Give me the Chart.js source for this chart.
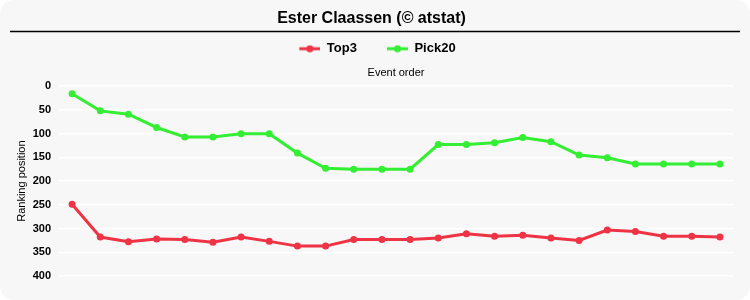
<!DOCTYPE html>
<html>
<head>
<meta charset="utf-8">
<script src="https://cdn.jsdelivr.net/npm/chart.js@4"></script>
<style>
  html, body { margin: 0; padding: 0; background: #fff; }
  .box { width: 750px; height: 300px; background: #f7f7f7; border-radius: 14px; overflow: hidden; }
</style>
</head>
<body>
<div class="box"><canvas id="rankChart" width="750" height="300"></canvas></div>
<script>
const events = Array.from({ length: 24 }, (_, i) => String(i + 1));
const top3 = [249, 318, 328, 322, 323, 329, 318, 327, 337, 337, 323, 323, 323, 320, 311, 316, 314, 320, 325, 303, 306, 316, 316, 318];
const pick20 = [16, 52, 59, 87, 107, 107, 100, 100, 141, 173, 175, 175, 175, 123, 123, 119, 108, 117, 145, 151, 164, 164, 164, 164];
const yTicks = [0, 50, 100, 150, 200, 250, 300, 350, 400];

const RED = '#ee3344';
const GREEN = '#33ee33';
const MARK_W = 33; // legend marker canvas, left part left blank as item gap

// line-with-dot marker for the legend
function legendMarker(color) {
  const c = document.createElement('canvas');
  c.width = MARK_W; c.height = 8;
  const g = c.getContext('2d');
  g.strokeStyle = color; g.lineWidth = 3;
  g.beginPath(); g.moveTo(MARK_W - 21, 4); g.lineTo(MARK_W, 4); g.stroke();
  g.fillStyle = color;
  g.beginPath(); g.arc(MARK_W - 10.5, 4, 3.5, 0, Math.PI * 2); g.fill();
  return c;
}

// black rule under the title
const titleRule = {
  id: 'titleRule',
  afterDraw(chart) {
    const ctx = chart.ctx;
    ctx.save();
    ctx.strokeStyle = '#000';
    ctx.lineWidth = 1.5;
    ctx.beginPath();
    ctx.moveTo(10, 31.5);
    ctx.lineTo(740, 31.5);
    ctx.stroke();
    ctx.restore();
  }
};

Chart.defaults.font.family = '"Liberation Sans", Arial, sans-serif';
Chart.defaults.color = '#000';

new Chart(document.getElementById('rankChart').getContext('2d'), {
  type: 'line',
  data: {
    labels: events,
    datasets: [
      {
        label: 'Top3',
        data: top3,
        borderColor: RED,
        backgroundColor: RED,
        borderWidth: 3,
        pointRadius: 3.5,
        pointBorderWidth: 0,
        tension: 0
      },
      {
        label: 'Pick20',
        data: pick20,
        borderColor: GREEN,
        backgroundColor: GREEN,
        borderWidth: 3,
        pointRadius: 3.5,
        pointBorderWidth: 0,
        tension: 0
      }
    ]
  },
  options: {
    responsive: false,
    animation: false,
    layout: { padding: { left: 9, right: 16, top: 9, bottom: 24 } },
    plugins: {
      title: {
        display: true,
        text: 'Ester Claassen (\u00a9 atstat)',
        font: { size: 16, weight: 'bold' },
        padding: { top: 0, bottom: -4 }
      },
      legend: {
        labels: {
          usePointStyle: true,
          pointStyleWidth: MARK_W,
          font: { size: 13, weight: 'bold' },
          padding: 18,
          generateLabels(chart) {
            return chart.data.datasets.map((ds, i) => ({
              text: ds.label,
              fillStyle: ds.borderColor,
              strokeStyle: ds.borderColor,
              fontColor: '#000',
              pointStyle: legendMarker(ds.borderColor),
              datasetIndex: i,
              hidden: false
            }));
          }
        }
      },
      tooltip: { enabled: false }
    },
    scales: {
      x: {
        position: 'top',
        offset: true,
        grid: { display: false, drawTicks: false },
        border: { display: false },
        ticks: { display: false },
        title: { display: true, text: 'Event order', font: { size: 11 }, padding: { top: 1.4, bottom: 6.4 } }
      },
      y: {
        reverse: true,
        min: 0,
        max: 400,
        afterBuildTicks(axis) { axis.ticks = yTicks.map(v => ({ value: v })); },
        afterFit(axis) { axis.width = 49; },
        grid: { color: '#ffffff', lineWidth: 1.5, drawTicks: false },
        border: { display: false },
        ticks: { font: { size: 11, weight: 'bold' }, padding: 7 },
        title: { display: true, text: 'Ranking position', font: { size: 11 }, padding: 6.5 }
      }
    }
  },
  plugins: [titleRule]
});
</script>
</body>
</html>
